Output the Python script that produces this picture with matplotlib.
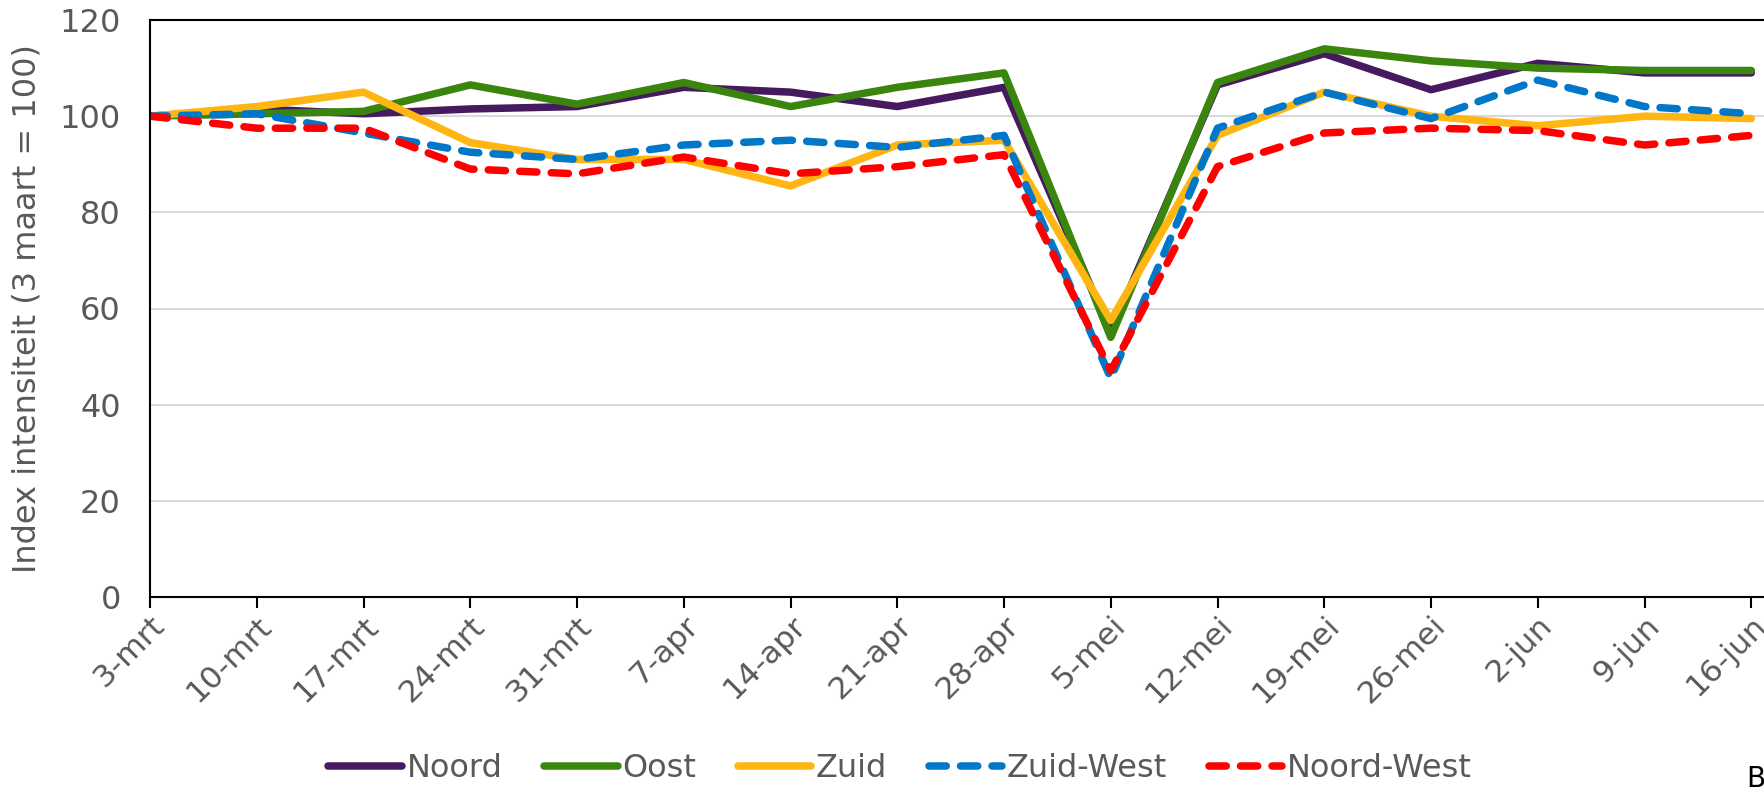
import matplotlib.pyplot as plt
import numpy as np

plt.rcParams['font.family'] = ['DejaVu Sans']

weeks = ["3-mrt", "10-mrt", "17-mrt", "24-mrt", "31-mrt", "7-apr", "14-apr", "21-apr",
         "28-apr", "5-mei", "12-mei", "19-mei", "26-mei", "2-jun", "9-jun", "16-jun"]

noord = [100, 101.5, 100.5, 101.5, 102, 106, 105, 102, 106, 55, 106.5, 113, 105.5, 111, 109, 109]
oost = [100, 100.5, 101, 106.5, 102.5, 107, 102, 106, 109, 54, 107, 114, 111.5, 110, 109.5, 109.5]
zuid = [100, 102, 105, 94.5, 91, 91, 85.5, 94, 95, 57.5, 96, 105, 100, 98, 100, 99.5]
zuid_west = [100, 100.5, 96.5, 92.5, 91, 94, 95, 93.5, 96, 45.5, 97.5, 105, 99.5, 107.5, 102, 100.5]
noord_west = [100, 97.5, 97.5, 89, 88, 91.5, 88, 89.5, 92, 47, 89.5, 96.5, 97.5, 97, 94, 96]

grey = "#595959"
x = np.arange(len(weeks))

fig = plt.figure(figsize=(17.65, 7.89), dpi=100)
# plot area runs past the right edge of the picture, as in the original
ax = fig.add_axes([150/1765, 1 - 597/789, 1660/1765, 577/789])

lw = 5.4
dash = (0, (2.3, 1.9))
ax.plot(x, noord, color="#451A5E", lw=lw, label="Noord", solid_capstyle="round")
ax.plot(x, oost, color="#3A850E", lw=lw, label="Oost", solid_capstyle="round")
ax.plot(x, zuid, color="#FFB612", lw=lw, label="Zuid", solid_capstyle="round")
ax.plot(x, zuid_west, color="#0077C8", lw=lw, ls=dash, dash_capstyle="round", label="Zuid-West")
ax.plot(x, noord_west, color="#FF0000", lw=lw, ls=dash, dash_capstyle="round", label="Noord-West")

ax.set_xlim(0, 15.55)
ax.set_ylim(0, 120)
ax.set_yticks(np.arange(0, 121, 20))
ax.set_xticks(x)
ax.set_xticklabels(weeks, rotation=45, ha="right", rotation_mode="anchor")
ax.grid(axis="y", color="#D9D9D9", lw=1.5)
ax.set_axisbelow(True)

for side in ["left", "bottom", "top"]:
    ax.spines[side].set_color("black")
    ax.spines[side].set_linewidth(1.5)
ax.spines["right"].set_visible(False)

ax.tick_params(axis="y", length=0, pad=21, labelsize=23, labelcolor=grey)
ax.tick_params(axis="x", length=8, width=1.5, direction="out", pad=2, labelsize=22.5, labelcolor=grey)
ax.set_ylabel("Index intensiteit (3 maart = 100)", fontsize=23, color=grey, labelpad=12)

fig.legend(loc="center", bbox_to_anchor=(0.51, 0.026), ncol=5, frameon=False,
           fontsize=23, labelcolor=grey, handlelength=2.3, handletextpad=0.15, columnspacing=1.3)

fig.text(1747/1765, -0.005, "Bron: CBS", fontsize=20, color="black", va="bottom")

fig.savefig("out.png", dpi=100)
